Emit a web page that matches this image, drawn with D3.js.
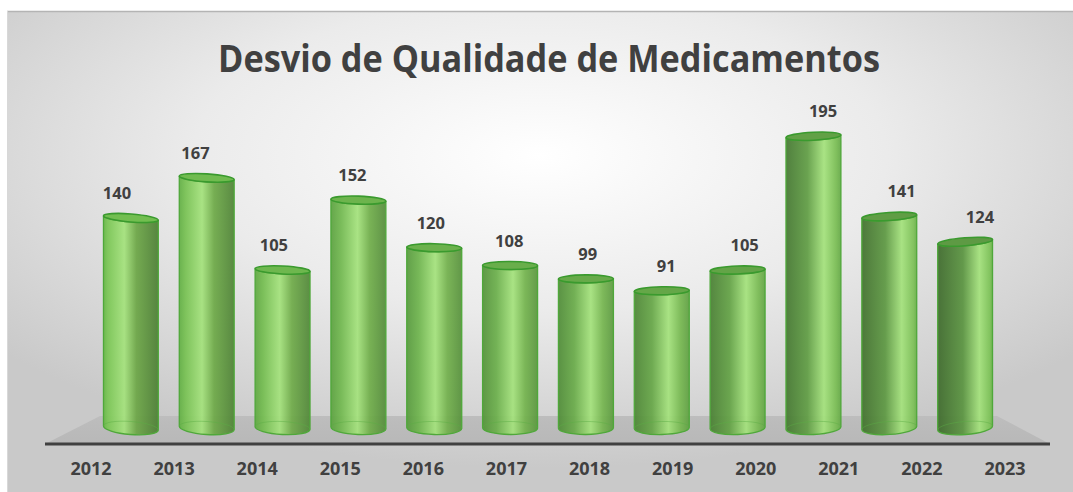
<!DOCTYPE html>
<html><head><meta charset="utf-8">
<script src="https://cdn.jsdelivr.net/npm/d3@7"></script>
<style>html,body{margin:0;padding:0;background:#fff;}svg{display:block;}</style>
</head><body>
<script>
const title = "Desvio de Qualidade de Medicamentos";
const years = ["2012","2013","2014","2015","2016","2017","2018","2019","2020","2021","2022","2023"];
const values = [140,167,105,152,120,108,99,91,105,195,141,124];

const W = 1073, H = 492;
const svg = d3.select("body").append("svg").attr("width", W).attr("height", H);
const defs = svg.append("defs");

// background
const bg = defs.append("radialGradient").attr("id","bg")
  .attr("cx","50%").attr("cy","30%").attr("r","65%");
bg.append("stop").attr("offset","0%").attr("stop-color","#ffffff");
bg.append("stop").attr("offset","50%").attr("stop-color","#ebebeb");
bg.append("stop").attr("offset","100%").attr("stop-color","#c9c9c9");
svg.append("rect").attr("x",7).attr("y",11).attr("width",W-7).attr("height",H-11).attr("fill","url(#bg)");
svg.append("line").attr("x1",7).attr("x2",W).attr("y1",11.5).attr("y2",11.5).attr("stroke","#b4b4b4").attr("stroke-width",1.5);
svg.append("line").attr("x1",7.5).attr("x2",7.5).attr("y1",11).attr("y2",H).attr("stroke","#d8d8d8").attr("stroke-width",1);

// title
svg.append("text").attr("x",549).attr("y",72).attr("text-anchor","middle")
  .attr("font-family","'Open Sans', sans-serif").attr("font-weight",700).attr("font-size",37)
  .attr("fill","#404040").attr("textLength",662).attr("lengthAdjust","spacingAndGlyphs")
  .text(title);

// scales
const x = d3.scaleBand().domain(years).range([93,1003]).paddingInner(0.275).paddingOuter(0.137);
const xAxisLab = d3.scalePoint().domain(years).range([91,1005]);
const xDataLab = d3.scalePoint().domain(years).range([117,980]);
const y = d3.scaleLinear().domain([0,200]).range([426,128.8]);

// floor
const floorG = defs.append("linearGradient").attr("id","floor").attr("x1",0).attr("y1",0).attr("x2",0).attr("y2",1);
floorG.append("stop").attr("offset","0%").attr("stop-color","#bdbdbd");
floorG.append("stop").attr("offset","100%").attr("stop-color","#b8b8b8");
svg.append("polygon").attr("points","45,444 100,416 997,416 1050,444").attr("fill","url(#floor)");

// cylinders
const rx = x.bandwidth()/2, ryTop = 4, ryBot = 6.5;
const midX = 548;
years.forEach((yr,i) => {
  const cx = x(yr) + rx;
  const t = (cx - 131) / (964 - 131); // 0..1 across
  const hl = 0.38 + 0.38*t;
  const gid = "cyl"+i;
  const g = defs.append("linearGradient").attr("id",gid).attr("x1",0).attr("x2",1).attr("y1",0).attr("y2",0);
  const stops = [
    [0, d3.interpolateRgb("#66b646","#3e6a2c")(t)],
    [Math.max(0.05, hl-0.3), d3.interpolateRgb("#7ac654","#5a9440")(t)],
    [hl, "#a4e27c"],
    [Math.min(0.95, hl+0.22), d3.interpolateRgb("#6ca646","#7cc256")(t)],
    [1, d3.interpolateRgb("#4c7e34","#6ab24a")(t)]
  ];
  stops.forEach(s => g.append("stop").attr("offset",s[0]).attr("stop-color",s[1]));

  const ang = -(cx - midX) / (964 - 131) * 2 * 4.5; // degrees
  const a = ang * Math.PI/180;
  const top = y(values[i]), bot = y(0)+2;
  const dx = rx*Math.cos(a), dy = rx*Math.sin(a);
  const body = `M${cx-dx},${top-dy} L${cx-dx},${bot-dy} A${rx},${ryBot} ${ang} 0 0 ${cx+dx},${bot+dy} L${cx+dx},${top+dy} A${rx},${ryTop} ${ang} 0 1 ${cx-dx},${top-dy} Z`;
  svg.append("path").attr("d", body).attr("fill","url(#"+gid+")").attr("fill-opacity",0.93)
    .attr("stroke","#4fa83a").attr("stroke-width",1.3);
  // faint back edge of bottom ellipse
  svg.append("path").attr("d", `M${cx-dx},${bot-dy} A${rx},${ryBot} ${ang} 0 1 ${cx+dx},${bot+dy}`)
    .attr("fill","none").attr("stroke","#5cae44").attr("stroke-opacity",0.45).attr("stroke-width",1);
  // top cap
  svg.append("ellipse").attr("cx",cx).attr("cy",top).attr("rx",rx).attr("ry",ryTop)
    .attr("transform",`rotate(${ang},${cx},${top})`)
    .attr("fill", d3.interpolateRgb("#72be50","#5e9a44")(t)).attr("stroke","#3a9a2e").attr("stroke-width",1.6);

  // data label
  svg.append("text").attr("x", xDataLab(yr)).attr("y", top-19).attr("text-anchor","middle")
    .attr("font-family","'Open Sans', sans-serif").attr("font-weight",700).attr("font-size",16.5)
    .attr("fill","#404040").text(values[i]);
});

// axis line
svg.append("line").attr("x1",45).attr("x2",1050).attr("y1",444).attr("y2",444).attr("stroke","#404040").attr("stroke-width",3);

// axis labels
svg.append("g").selectAll("text").data(years).join("text")
  .attr("x", d => xAxisLab(d)).attr("y", 475).attr("text-anchor","middle")
  .attr("font-family","'Open Sans', sans-serif").attr("font-weight",700).attr("font-size",18)
  .attr("fill","#404040").text(d => d);
</script>
</body></html>
